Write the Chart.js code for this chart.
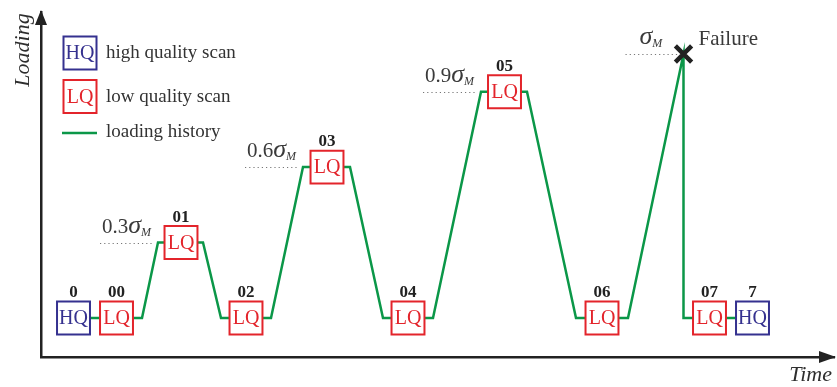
<!DOCTYPE html>
<html>
<head>
<meta charset="utf-8">
<script src="https://cdn.jsdelivr.net/npm/chart.js@4"></script>
<style>
  html, body { margin: 0; padding: 0; background: #fff; }
  #wrap { width: 837px; height: 387px; position: relative; }
</style>
</head>
<body>
<div id="wrap"><canvas id="chart"></canvas></div>
<script>
// loading history (time in arbitrary units, loading as fraction of sigma_M)
const loadTime = [32, 101, 117, 162, 180, 230, 262, 309, 342, 392, 440, 486, 535, 587, 642.5, 642.5, 711];
const loadLevel = [0, 0, 0.3, 0.3, 0, 0, 0.6, 0.6, 0, 0, 0.9, 0.9, 0, 0, 1.05, 0, 0];

// scans
const scanNames = ["0", "00", "01", "02", "03", "04", "05", "06", "07", "7"];
const scanType = ["HQ", "LQ", "LQ", "LQ", "LQ", "LQ", "LQ", "LQ", "LQ", "HQ"];
const scanTime = [32.5, 75.5, 140, 205, 286, 367, 463.5, 561, 668.5, 711.5];
const scanLevel = [0, 0, 0.3, 0, 0.6, 0, 0.9, 0, 0, 0];

// load levels marked with dotted lines
const levelTime = [117, 262, 440];
const levelValue = [0.3, 0.6, 0.9];
const levelText = ["0.3", "0.6", "0.9"];

const failTime = 642.5;
const failLevel = 1.05;

const RED = "#e3242b";
const BLUE = "#35318f";
const GREEN = "#0b9748";
const INK = "#2e2e2e";
const SERIF = '"Liberation Serif", "Times New Roman", serif';

function sigmaLabel(ctx, x, y, prefix) {
	ctx.textAlign = "left";
	ctx.textBaseline = "alphabetic";
	ctx.fillStyle = "#3a3a3a";
	ctx.font = "21px " + SERIF;
	ctx.fillText(prefix, x, y);
	x += ctx.measureText(prefix).width;
	ctx.font = "italic 26px " + SERIF;
	ctx.fillText("\u03c3", x, y);
	x += ctx.measureText("\u03c3").width;
	ctx.font = "italic 12px " + SERIF;
	ctx.fillText("M", x, y + 3);
}

function box(ctx, cx, cy, text, color) {
	ctx.fillStyle = "#fff";
	ctx.fillRect(cx - 16.5, cy - 16.5, 33, 33);
	ctx.strokeStyle = color;
	ctx.lineWidth = 2;
	ctx.strokeRect(cx - 16.5, cy - 16.5, 33, 33);
	ctx.fillStyle = color;
	ctx.font = "20px " + SERIF;
	ctx.textAlign = "center";
	ctx.textBaseline = "middle";
	ctx.fillText(text, cx, cy + 1);
}

const decorations = {
	id: "decorations",
	beforeDatasetsDraw(chart) {
		const ctx = chart.ctx;
		const x = chart.scales.x;
		const y = chart.scales.y;
		ctx.save();
		// dotted level lines
		ctx.strokeStyle = "#777";
		ctx.lineWidth = 1;
		ctx.setLineDash([1.2, 3]);
		const starts = levelTime.concat([failTime]);
		const vals = levelValue.concat([failLevel]);
		starts.forEach((t, i) => {
			const px = x.getPixelForValue(t);
			const py = Math.round(y.getPixelForValue(vals[i])) + 0.5;
			ctx.beginPath();
			ctx.moveTo(px - 58, py);
			ctx.lineTo(px - 4, py);
			ctx.stroke();
		});
		ctx.restore();
	},
	afterDatasetsDraw(chart) {
		const ctx = chart.ctx;
		const x = chart.scales.x;
		const y = chart.scales.y;
		const area = chart.chartArea;
		ctx.save();

		// scan labels inside boxes and names above
		scanNames.forEach((name, i) => {
			const px = x.getPixelForValue(scanTime[i]);
			const py = y.getPixelForValue(scanLevel[i]);
			ctx.fillStyle = scanType[i] === "HQ" ? BLUE : RED;
			ctx.font = "20px " + SERIF;
			ctx.textAlign = "center";
			ctx.textBaseline = "middle";
			ctx.fillText(scanType[i], px, py + 1);
			ctx.fillStyle = "#222";
			ctx.font = "bold 17px " + SERIF;
			ctx.textBaseline = "alphabetic";
			ctx.fillText(name, px, py - 21);
		});

		// level labels
		levelTime.forEach((t, i) => {
			const px = x.getPixelForValue(t);
			const py = y.getPixelForValue(levelValue[i]);
			sigmaLabel(ctx, px - 56, py - 10, levelText[i]);
		});
		const fx = x.getPixelForValue(failTime);
		const fy = y.getPixelForValue(failLevel);
		sigmaLabel(ctx, fx - 44, fy - 10, "");
		ctx.fillStyle = "#3a3a3a";
		ctx.font = "21px " + SERIF;
		ctx.textAlign = "left";
		ctx.fillText("Failure", fx + 15, fy - 9);

		// arrowheads
		ctx.fillStyle = "#222";
		ctx.beginPath();
		ctx.moveTo(area.left, 10);
		ctx.lineTo(area.left - 6, 25);
		ctx.lineTo(area.left + 6, 25);
		ctx.closePath();
		ctx.fill();
		ctx.beginPath();
		ctx.moveTo(836, area.bottom);
		ctx.lineTo(819, area.bottom - 6);
		ctx.lineTo(819, area.bottom + 6);
		ctx.closePath();
		ctx.fill();

		// axis titles
		ctx.fillStyle = INK;
		ctx.font = "italic 22px " + SERIF;
		ctx.textAlign = "right";
		ctx.textBaseline = "alphabetic";
		ctx.fillText("Time", 832, 381);
		ctx.save();
		ctx.translate(29, 50);
		ctx.rotate(-Math.PI / 2);
		ctx.textAlign = "center";
		ctx.fillText("Loading", 0, 0);
		ctx.restore();

		// legend
		box(ctx, 80, 53, "HQ", BLUE);
		box(ctx, 80, 96.5, "LQ", RED);
		ctx.strokeStyle = GREEN;
		ctx.lineWidth = 2.5;
		ctx.beginPath();
		ctx.moveTo(62, 133);
		ctx.lineTo(97, 133);
		ctx.stroke();
		ctx.fillStyle = "#333";
		ctx.font = "19px " + SERIF;
		ctx.textAlign = "left";
		ctx.textBaseline = "alphabetic";
		ctx.fillText("high quality scan", 106, 58);
		ctx.fillText("low quality scan", 106, 102);
		ctx.fillText("loading history", 106, 137);
		ctx.restore();
	},
};

const ctx = document.getElementById("chart").getContext("2d");

new Chart(ctx, {
	type: "scatter",
	data: {
		datasets: [
			{
				label: "scans",
				order: 0,
				data: scanTime.map((t, i) => ({ x: t, y: scanLevel[i] })),
				pointStyle: "rect",
				pointRadius: 23.3,
				pointBorderWidth: 2,
				pointBackgroundColor: "#fff",
				pointBorderColor: scanType.map((s) => (s === "HQ" ? BLUE : RED)),
			},
			{
				label: "failure",
				order: 1,
				data: [{ x: failTime, y: failLevel }],
				pointStyle: "crossRot",
				pointRadius: 11.5,
				pointBorderWidth: 4.5,
				pointBorderColor: "#222",
			},
			{
				label: "loading history",
				type: "line",
				order: 2,
				data: loadTime.map((t, i) => ({ x: t, y: loadLevel[i] })),
				borderColor: GREEN,
				borderWidth: 2.5,
				pointRadius: 0,
				tension: 0,
				fill: false,
			},
		],
	},
	options: {
		responsive: true,
		maintainAspectRatio: false,
		animation: false,
		layout: { autoPadding: false, padding: { left: 41, right: 3, top: 12, bottom: 30 } },
		plugins: {
			legend: { display: false },
			tooltip: { enabled: false },
		},
		scales: {
			x: {
				type: "linear",
				min: 0,
				max: 793,
				grid: { display: false, drawTicks: false },
				ticks: { display: false },
				border: { display: true, color: "#222", width: 2.5 },
				afterFit: (s) => { s.height = 0; },
			},
			y: {
				type: "linear",
				min: -0.155,
				max: 1.2167,
				grid: { display: false, drawTicks: false },
				ticks: { display: false },
				border: { display: true, color: "#222", width: 2.5 },
				afterFit: (s) => { s.width = 0; },
			},
		},
	},
	plugins: [decorations],
});
</script>
</body>
</html>
